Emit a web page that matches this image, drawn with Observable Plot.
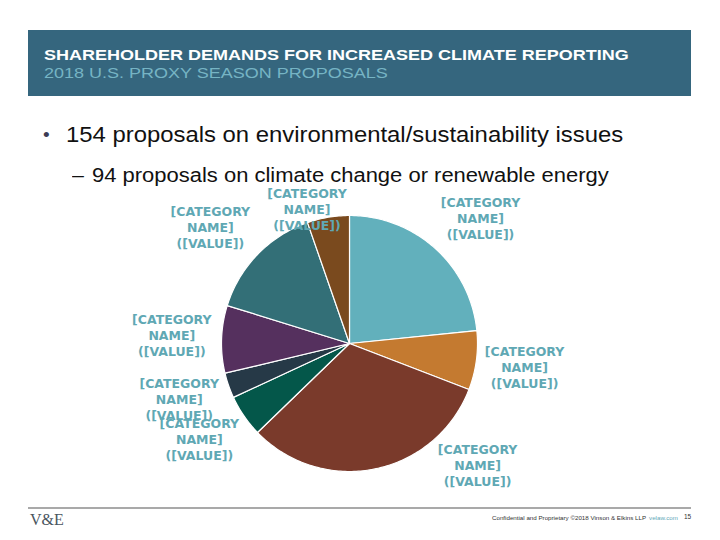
<!DOCTYPE html>
<html>
<head>
<meta charset="utf-8">
<script src="https://cdn.jsdelivr.net/npm/d3@7"></script>
<script src="https://cdn.jsdelivr.net/npm/@observablehq/plot@0.6"></script>
<style>
  html, body { margin: 0; padding: 0; background: #fff; }
  #slide { position: relative; width: 720px; height: 540px; overflow: hidden; font-family: Arial, "Liberation Sans", sans-serif; }
  #band { position: absolute; left: 28px; top: 30px; width: 663px; height: 66px; background: #35667e; }
  #title, #subtitle { position: absolute; left: 16px; font-size: 15px; line-height: 1; white-space: nowrap; transform: scaleX(1.2); transform-origin: 0 0; }
  #title { top: 17.3px; color: #fff; font-weight: bold; }
  #subtitle { top: 35.3px; color: #76b4c4; }
  .bullet { position: absolute; white-space: nowrap; color: #111; line-height: 1; transform-origin: 0 0; }
  #b1 { left: 66px; top: 124.5px; font-size: 21.5px; transform: scaleX(1.11); }
  #b1dot { left: 43px; top: 125px; font-size: 19px; color: #3c3c55; }
  #b2 { left: 92px; top: 166px; font-size: 19.5px; transform: scaleX(1.127); }
  #b2dash { left: 72px; top: 166px; font-size: 19.5px; transform: scaleX(1.1); }
  #chart { position: absolute; left: 119px; top: 178px; }
  #rule { position: absolute; left: 28px; top: 507px; width: 663px; height: 2px; background: #a9a9a9; }
  #logo { position: absolute; left: 30px; top: 511px; font-family: "Liberation Serif", "DejaVu Serif", serif; font-size: 16px; color: #4a5560; }
  #legal { position: absolute; left: 492px; top: 514px; font-size: 6.2px; color: #333; white-space: nowrap; }
  #legal .web { color: #5fa8b8; margin-left: 3px; }
  #page { position: absolute; left: 684px; top: 513px; font-size: 6.5px; color: #333; }
</style>
</head>
<body>
<div id="slide">
  <div id="band">
    <div id="title">SHAREHOLDER DEMANDS FOR INCREASED CLIMATE REPORTING</div>
    <div id="subtitle">2018 U.S. PROXY SEASON PROPOSALS</div>
  </div>
  <div class="bullet" id="b1dot">•</div>
  <div class="bullet" id="b1">154 proposals on environmental/sustainability issues</div>
  <div class="bullet" id="b2dash">–</div>
  <div class="bullet" id="b2">94 proposals on climate change or renewable energy</div>
  <div id="chart"></div>
  <div id="rule"></div>
  <div id="logo">V&amp;E</div>
  <div id="legal">Confidential and Proprietary ©2018 Vinson &amp; Elkins LLP<span class="web">velaw.com</span></div>
  <div id="page">15</div>
</div>
<script>
// Proposal counts per category, clockwise from 12 o'clock (total 94)
const categories = ["[CATEGORY NAME]", "[CATEGORY NAME]", "[CATEGORY NAME]", "[CATEGORY NAME]",
                    "[CATEGORY NAME]", "[CATEGORY NAME]", "[CATEGORY NAME]", "[CATEGORY NAME]"];
const values = [22, 7, 30, 5, 3, 8, 14, 5];
const valueLabels = ["[VALUE]", "[VALUE]", "[VALUE]", "[VALUE]", "[VALUE]", "[VALUE]", "[VALUE]", "[VALUE]"];

// Slice colours, in slice order
const palette = ["#62b0bc", "#c47a30", "#7a3a2b", "#04574a", "#263947", "#55305e", "#336f77", "#7a4a1e"];

// Label placement: angle shift (degrees) from slice mid-angle and radius (in pie radii)
const labelShift = [4, 0, -35, 2, 1, 1, -4, -8];
const labelRadius = [1.42, 1.38, 1.38, 1.39, 1.40, 1.39, 1.42, 1.10];

const rows = categories.map((c, i) => ({i, category: c, value: values[i], label: valueLabels[i]}));
const arcs = d3.pie().value(d => d.value).sort(null)(rows);

// Polygon outline for each slice: centre, then points along the arc
const polys = [];
for (const a of arcs) {
  const n = Math.max(4, Math.ceil((a.endAngle - a.startAngle) / (Math.PI / 180)));
  polys.push({i: a.data.i, x: 0, y: 0});
  for (let k = 0; k <= n; k++) {
    const t = a.startAngle + (a.endAngle - a.startAngle) * k / n;
    polys.push({i: a.data.i, x: Math.sin(t), y: Math.cos(t)});
  }
}

const labelsData = arcs.map(a => {
  const i = a.data.i;
  const t = (a.startAngle + a.endAngle) / 2 + labelShift[i] * Math.PI / 180;
  return {
    i,
    x: Math.sin(t) * labelRadius[i],
    y: Math.cos(t) * labelRadius[i],
    text: a.data.category.replace(" ", "\n") + "\n(" + a.data.label + ")"
  };
});

const W = 460, H = 330, R = 128;
const chart = Plot.plot({
  width: W,
  height: H,
  margin: 0,
  x: {domain: [-W / 2 / R, W / 2 / R], axis: null},
  y: {domain: [-H / 2 / R, H / 2 / R], axis: null},
  color: {domain: d3.range(categories.length), range: palette},
  marks: [
    Plot.line(polys, {
      x: "x", y: "y", z: "i", fill: "i",
      stroke: "#ffffff", strokeWidth: 1.2, strokeLinejoin: "round",
      curve: "linear-closed"
    }),
    Plot.text(labelsData, {
      x: "x", y: "y", text: "text",
      fill: "#5fa8b4", fontSize: 12.5, fontWeight: "bold",
      fontFamily: "Tahoma, 'DejaVu Sans', Verdana, sans-serif",
      lineHeight: 1.28, textAnchor: "middle"
    })
  ]
});
document.getElementById("chart").appendChild(chart);
</script>
</body>
</html>
